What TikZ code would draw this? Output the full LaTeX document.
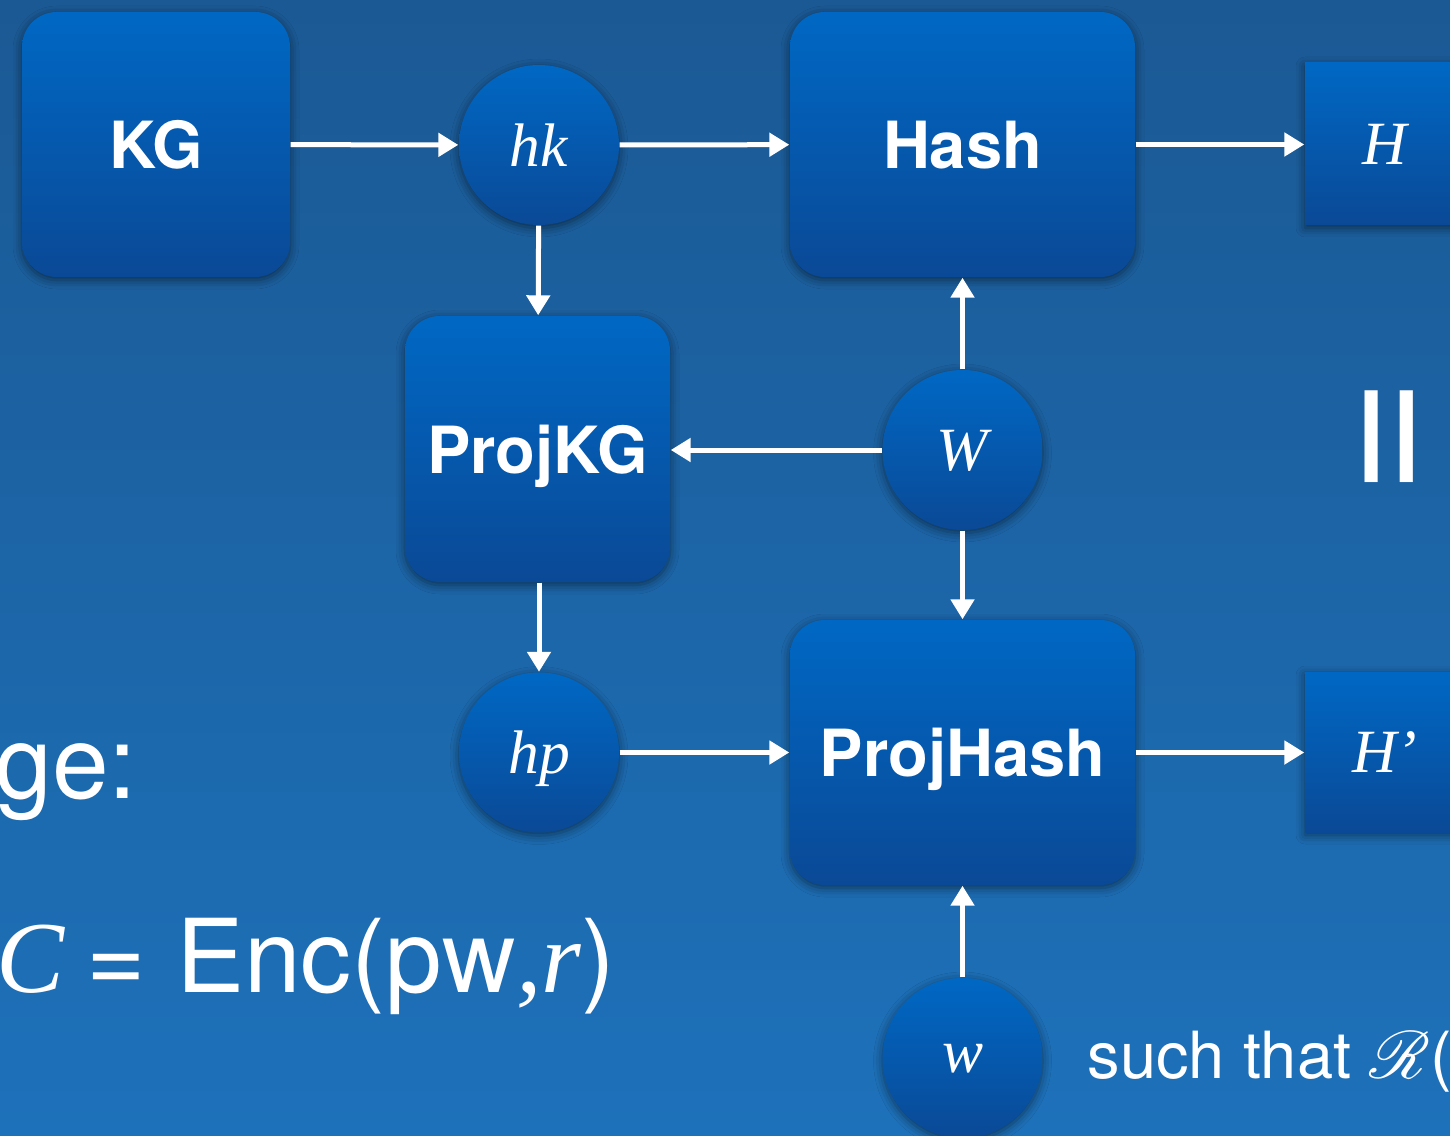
\documentclass[tikz,border=0pt]{standalone}
\usepackage{fontspec}
\usepackage{mathrsfs}
\setmainfont{Liberation Serif}
\setsansfont{TeX Gyre Heros}
\usetikzlibrary{arrows.meta, shadows.blur, positioning}

\definecolor{sfondoalto}{RGB}{27,89,148}
\definecolor{sfondobasso}{RGB}{29,113,186}
\definecolor{bloccoalto}{RGB}{0,104,196}
\definecolor{bloccobasso}{RGB}{10,73,150}

\tikzset{
  ombra/.style={blur shadow={shadow xshift=0pt, shadow yshift=-0.03cm,
      shadow blur radius=0.09cm, shadow opacity=50}},
  algo/.style={rounded corners=0.35cm, top color=bloccoalto, bottom color=bloccobasso,
      ombra, text depth=0pt, text=white, font=\sffamily\bfseries\fontsize{18.5}{22}\selectfont},
  uscita/.style={top color=bloccoalto, bottom color=bloccobasso, ombra,
      minimum width=1.6cm, text=white, font=\itshape\fontsize{17.5}{21}\selectfont},
  chiave/.style={circle, minimum size=1.6cm, inner sep=0pt, top color=bloccoalto,
      bottom color=bloccobasso, ombra, text depth=0pt, text=white, font=\itshape\fontsize{17.5}{21}\selectfont},
  freccia/.style={white, line width=0.05cm, -{Triangle[length=0.2cm, width=0.23cm]}},
  scritta/.style={text=white, inner sep=0pt, font=\sffamily},
}

\begin{document}
\begin{tikzpicture}
    \useasboundingbox (0,0) rectangle (14.5,-11.35);
    \clip (0,0) rectangle (14.5,-11.35);
    % Lo sfondo
    \shade[top color=sfondoalto, bottom color=sfondobasso] (0,0) rectangle (14.5,-11.35);

    % I blocchi degli algoritmi
    \node[algo, minimum width=2.68cm, minimum height=2.65cm] (kg) at (1.56,-1.445) {KG};
    \node[algo, minimum width=3.45cm, minimum height=2.65cm] (hash) at (9.625,-1.445) {Hash};
    \node[algo, minimum width=2.65cm, minimum height=2.66cm] (projkg) at (5.375,-4.49) {ProjKG};
    \node[algo, minimum width=3.45cm, minimum height=2.65cm] (projhash) at (9.625,-7.525) {ProjHash};

    % Le chiavi e i testimoni
    \node[chiave] (hk) at (5.39,-1.45) {hk};
    \node[chiave] (W) at (9.625,-4.50) {W};
    \node[chiave] (hp) at (5.39,-7.525) {hp};
    \node[chiave] (w) at (9.625,-10.58) {w};

    % Le uscite
    \node[uscita, minimum height=1.62cm] (H) at (13.85,-1.44) {H};
    \node[uscita, minimum height=1.6cm] (H2) at (13.85,-7.52) {H’};
    \node[scritta, rotate=90, font=\sffamily\fontsize{55}{60}\selectfont] (uguale) at (14.01,-4.37)
        {\scalebox{1.06}[1]{=}};

    % Testi
    \node[scritta, anchor=base east, font=\sffamily\fontsize{29}{34}\selectfont] (msg) at (1.38,-7.98) {ge:};
    \node[scritta, anchor=base west, font=\sffamily\fontsize{29}{34}\selectfont] (cifra) at (-0.04,-9.92)
        {{\rmfamily\itshape C}\hspace{0.22cm}=\hspace{0.3cm}Enc(pw{\rmfamily\itshape ,r})};
    \node[scritta, anchor=base west, font=\sffamily\fontsize{18.5}{22}\selectfont] (tale) at (10.87,-10.78)
        {such that \scalebox{1.1}{$\mathscr{R}$}(};

    % Le frecce
    \draw[freccia] (kg) -- (hk);
    \draw[freccia] (hk) -- (hash);
    \draw[freccia] (hash) -- (H.west |- hash.east);
    \draw[freccia] (hk) -- (projkg);
    \draw[freccia] (W.west) -- (projkg.east |- W.west);
    \draw[freccia] (W) -- (hash);
    \draw[freccia] (W) -- (projhash);
    \draw[freccia] (projkg.south -| hp.north) -- (hp);
    \draw[freccia] (hp) -- (projhash);
    \draw[freccia] (projhash) -- (H2.west |- projhash.east);
    \draw[freccia] (w) -- (projhash);

\end{tikzpicture}
\end{document}
